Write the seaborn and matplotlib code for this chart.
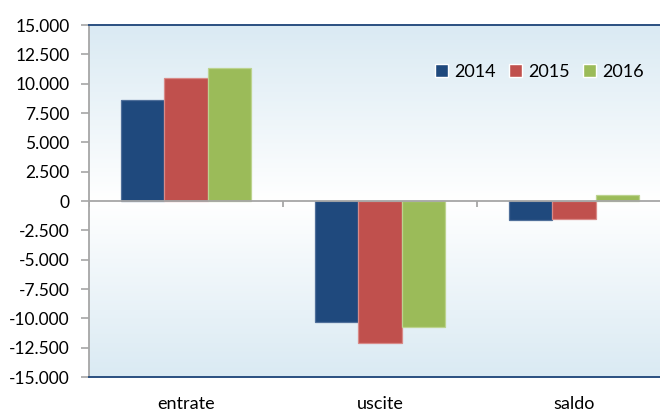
import numpy as np
import pandas as pd
import matplotlib
matplotlib.use("Agg")
import matplotlib.pyplot as plt
import seaborn as sns
from matplotlib.colors import LinearSegmentedColormap

# Dati: flussi per voce e anno
voci = ["entrate", "uscite", "saldo"]
anni = ["2014", "2015", "2016"]
valori_2014 = [8600, -10300, -1600]
valori_2015 = [10500, -12100, -1500]
valori_2016 = [11300, -10700, 550]
tick_valori = list(range(-15000, 15001, 2500))

colori = ["#1F497D", "#C0504D", "#9BBB59"]
bordi = ["#4F6F9A", "#D88A88", "#BCD38F"]

righe = []
for anno, serie in zip(anni, [valori_2014, valori_2015, valori_2016]):
    for voce, v in zip(voci, serie):
        righe.append({"voce": voce, "anno": anno, "valore": v})
df = pd.DataFrame(righe)

sns.set_style("white")
plt.rcParams["font.family"] = ["Lato", "DejaVu Sans"]
plt.rcParams["text.color"] = "black"
plt.rcParams["xtick.labelcolor"] = "black"
plt.rcParams["ytick.labelcolor"] = "black"

fig = plt.figure(figsize=(6.6, 4.12), dpi=100)
ax = fig.add_axes([89 / 660, 35 / 412, (671 - 89) / 660, 352 / 412])

# Sfondo sfumato: azzurro ai bordi, bianco al centro
sfondo = LinearSegmentedColormap.from_list(
    "sfondo", ["#DAEAF3", "#FFFFFF", "#DAEAF3"])
grad = np.linspace(0, 1, 256).reshape(-1, 1)
ax.imshow(grad, cmap=sfondo, aspect="auto", extent=[0, 1, 0, 1],
          transform=ax.transAxes, zorder=0)

sns.barplot(data=df, x="voce", y="valore", hue="anno", order=voci,
            hue_order=anni, palette=colori, saturation=1, width=0.665,
            ax=ax, zorder=3)

for cont, bc in zip(ax.containers, bordi):
    for p in cont:
        p.set_edgecolor(bc)
        p.set_linewidth(0.9)

ax.set_xlim(-0.5, len(voci) - 0.5)
ax.set_ylim(tick_valori[0], tick_valori[-1])
ax.set_yticks(tick_valori)
ax.set_yticklabels([f"{v:,}".replace(",", ".") for v in tick_valori])
ax.set_xlabel("")
ax.set_ylabel("")

# Linea dello zero con tacche tra le categorie
ax.axhline(0, color="#A6A6A6", lw=1.3, zorder=4)
confini = np.arange(len(voci) + 1) - 0.5
ax.vlines(confini, -480, 0, color="#A6A6A6", lw=1.3, zorder=4)

for s in ["top", "bottom"]:
    ax.spines[s].set_color("#2A4F80")
    ax.spines[s].set_linewidth(1.4)
ax.spines["left"].set_color("#A6A6A6")
ax.spines["left"].set_linewidth(1.3)
ax.spines["right"].set_visible(False)

ax.tick_params(axis="y", direction="out", length=6, width=1.2,
               color="#A6A6A6", pad=8, labelsize=12.5, left=True)
ax.tick_params(axis="x", length=0, pad=14, labelsize=13)

leg = ax.legend(loc="upper left", bbox_to_anchor=((435 - 89) / 582, 0.89),
                ncol=3, frameon=False, fontsize=13, handlelength=0.7,
                handleheight=0.7, handletextpad=0.35, columnspacing=0.75,
                borderpad=0, borderaxespad=0)

fig.savefig("out.png", dpi=100)
